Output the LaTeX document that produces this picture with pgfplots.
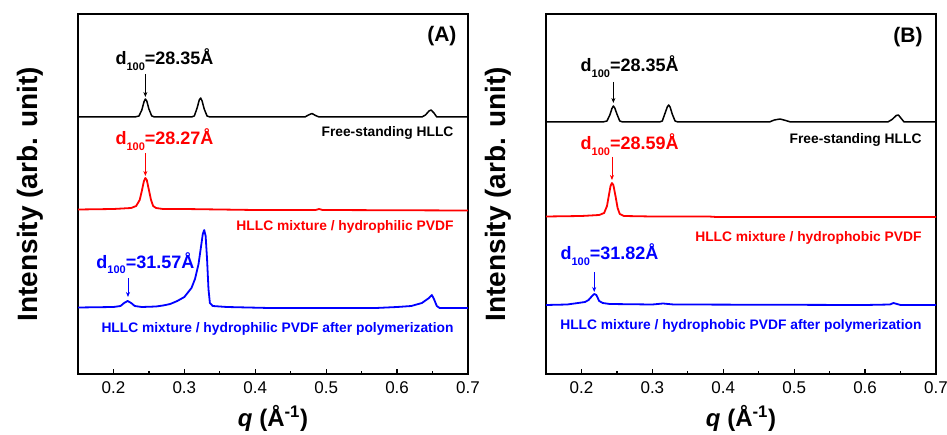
\documentclass[border=0pt]{standalone}
\usepackage{fontspec}
\setmainfont{Liberation Sans}
\usepackage{pgfplots}
\pgfplotsset{compat=1.18}
\usetikzlibrary{arrows.meta}

\definecolor{xred}{RGB}{255,0,0}
\definecolor{xblue}{RGB}{0,0,255}

\newcommand{\dsub}[1]{\raisebox{-0.32em}{\fontsize{11}{11}\selectfont #1}}
\newcommand{\dfont}{\bfseries\fontsize{18}{18}\selectfont}
\newcommand{\lfont}{\bfseries\fontsize{13.8}{14}\selectfont}

\pgfplotsset{
  panel/.style={
    scale only axis, width=390pt, height=360pt,
    xmin=0.15, xmax=0.7, ymin=0, ymax=360,
    xtick={0.2,0.3,0.4,0.5,0.6,0.7},
    xticklabels={0.2,0.3,0.4,0.5,0.6,0.7},
    minor xtick={0.25,0.35,0.45,0.55,0.65},
    ytick=\empty,
    xtick pos=left,
    tick align=inside,
    major tick length=5pt, minor tick length=3pt,
    every tick/.append style={black, line width=1.2pt},
    axis line style={line width=1.6pt},
    xticklabel style={font=\fontsize{17}{17}\selectfont, yshift=-4pt},
    xlabel={\textit{q} (Å\textsuperscript{-1})},
    ylabel={Intensity (arb. unit)},
    xlabel style={at={(axis description cs:0.5,-0.146)}, anchor=base,
      font=\bfseries\fontsize{24}{24}\selectfont},
    ylabel style={at={(axis description cs:-0.123,0.5)}, anchor=center,
      font=\bfseries\fontsize{28}{28}\selectfont},
    every axis plot/.append style={no marks, line join=round},
  }
}

\begin{document}
\begin{tikzpicture}
% ---- panel A
\begin{axis}[panel, at={(78pt,60pt)}, anchor=south west]
\addplot[black, line width=1.5pt] coordinates {
 (0.15,257) (0.23,257) (0.236,258) (0.240,264) (0.243,272) (0.245,275) (0.247,273)
 (0.250,265) (0.254,258) (0.258,257) (0.31,257) (0.314,258) (0.318,266) (0.321,274)
 (0.323,276) (0.325,273) (0.328,265) (0.332,258) (0.336,257) (0.47,257) (0.475,259)
 (0.48,260.5) (0.485,258.5) (0.49,257) (0.635,257) (0.640,259) (0.645,263) (0.648,264)
 (0.652,261) (0.656,257) (0.7,257)
};
\addplot[xred, line width=1.8pt] coordinates {
 (0.15,164.5) (0.2,165) (0.225,166) (0.232,168) (0.237,174) (0.240,183) (0.243,193)
 (0.245,196) (0.247,194) (0.250,184) (0.253,174) (0.256,168) (0.260,166) (0.27,165)
 (0.30,165) (0.35,164.5) (0.4,164) (0.485,164) (0.49,165) (0.495,164) (0.7,163.5)
};
\addplot[xblue, line width=1.8pt] coordinates {
 (0.15,66.5) (0.2,67) (0.21,68) (0.215,71) (0.220,73) (0.225,71) (0.23,68) (0.24,67)
 (0.26,67.5) (0.27,68.5) (0.28,70) (0.29,73) (0.30,77) (0.31,86) (0.315,95) (0.32,110)
 (0.323,125) (0.326,140) (0.328,144) (0.330,138) (0.332,115) (0.334,85) (0.336,71)
 (0.34,68) (0.36,67) (0.42,66) (0.5,66) (0.57,66) (0.6,67) (0.62,68) (0.635,71)
 (0.645,76) (0.649,79) (0.652,75) (0.656,68) (0.66,66) (0.7,66)
};
\node[anchor=base east, font=\bfseries\fontsize{21}{21}\selectfont] at (axis cs:0.6887,332) {(A)};
\node[anchor=base west, font=\dfont] at (axis cs:0.198,309) {d\dsub{100}=28.35Å};
\node[anchor=base west, font=\dfont, text=xred] at (axis cs:0.198,229) {d\dsub{100}=28.27Å};
\node[anchor=base west, font=\dfont, text=xblue] at (axis cs:0.171,106) {d\dsub{100}=31.57Å};
\draw[-{Stealth[length=5pt,width=4pt]}, line width=0.8pt] (axis cs:0.245,300) -- (axis cs:0.245,277);
\draw[-{Stealth[length=5pt,width=4pt]}, line width=0.8pt, xred] (axis cs:0.245,221) -- (axis cs:0.245,198);
\draw[-{Stealth[length=5pt,width=4pt]}, line width=0.8pt, xblue] (axis cs:0.2205,96) -- (axis cs:0.2205,77);
\node[anchor=base east, font=\lfont] at (axis cs:0.6845,237) {Free-standing HLLC};
\node[anchor=base east, font=\lfont, text=xred] at (axis cs:0.6845,143) {HLLC mixture / hydrophilic PVDF};
\node[anchor=base east, font=\lfont, text=xblue] at (axis cs:0.6845,42) {HLLC mixture / hydrophilic PVDF after polymerization};
\end{axis}
% ---- panel B
\begin{axis}[panel, at={(546pt,60pt)}, anchor=south west]
\addplot[black, line width=1.5pt] coordinates {
 (0.15,252) (0.23,252) (0.236,253) (0.240,259) (0.243,265.5) (0.245,268) (0.247,266)
 (0.250,260) (0.254,253) (0.258,252) (0.31,252) (0.314,253) (0.318,261) (0.321,267)
 (0.323,269) (0.325,267) (0.328,260) (0.332,253) (0.336,252) (0.465,252) (0.472,254)
 (0.48,255) (0.488,253.5) (0.495,252) (0.632,252) (0.638,254.5) (0.644,258.5) (0.647,259)
 (0.651,255.5) (0.655,252) (0.7,252)
};
\addplot[xred, line width=1.8pt] coordinates {
 (0.15,157.5) (0.2,158) (0.225,159) (0.232,161) (0.236,168) (0.239,180) (0.241,188)
 (0.243,191) (0.245,189) (0.248,178) (0.251,166) (0.254,160) (0.26,158) (0.3,157.5)
 (0.38,157.5) (0.39,157) (0.7,157)
};
\addplot[xblue, line width=1.8pt] coordinates {
 (0.15,69) (0.18,69.5) (0.195,71) (0.205,72) (0.21,74) (0.215,78) (0.218,80) (0.221,79)
 (0.225,73) (0.23,71) (0.24,70) (0.3,69.5) (0.315,70.5) (0.33,69.5) (0.6,69)
 (0.635,69.5) (0.64,71) (0.645,70) (0.65,69) (0.7,69)
};
\node[anchor=base east, font=\bfseries\fontsize{21}{21}\selectfont] at (axis cs:0.686,331) {(B)};
\node[anchor=base west, font=\dfont] at (axis cs:0.194,302) {d\dsub{100}=28.35Å};
\node[anchor=base west, font=\dfont, text=xred] at (axis cs:0.194,224) {d\dsub{100}=28.59Å};
\node[anchor=base west, font=\dfont, text=xblue] at (axis cs:0.1656,114) {d\dsub{100}=31.82Å};
\draw[-{Stealth[length=5pt,width=4pt]}, line width=0.8pt] (axis cs:0.245,292) -- (axis cs:0.245,271);
\draw[-{Stealth[length=5pt,width=4pt]}, line width=0.8pt, xred] (axis cs:0.243,217) -- (axis cs:0.243,194);
\draw[-{Stealth[length=5pt,width=4pt]}, line width=0.8pt, xblue] (axis cs:0.218,102) -- (axis cs:0.218,82);
\node[anchor=base east, font=\lfont] at (axis cs:0.6845,230) {Free-standing HLLC};
\node[anchor=base east, font=\lfont, text=xred] at (axis cs:0.6845,132) {HLLC mixture / hydrophobic PVDF};
\node[anchor=base east, font=\lfont, text=xblue] at (axis cs:0.6845,45) {HLLC mixture / hydrophobic PVDF after polymerization};
\end{axis}
\pgfresetboundingbox
\path (0,0) rectangle (947pt,434pt);
\end{tikzpicture}
\end{document}
